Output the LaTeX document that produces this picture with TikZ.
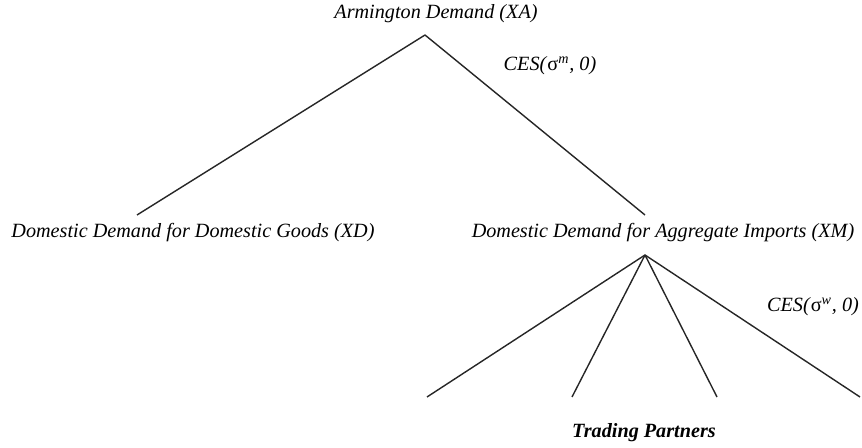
\documentclass[tikz,border=0pt]{standalone}
\usepackage{fontspec}
\setmainfont{Liberation Serif}
\usepackage{tikz}
\usetikzlibrary{positioning}

\begin{document}
\begin{tikzpicture}[
    x=0.02cm, y=-0.02cm,
    demand/.style={font=\fontsize{11.5}{14}\selectfont\itshape, inner sep=1pt},
    partner/.style={font=\fontsize{11.5}{14}\selectfont\bfseries\itshape, inner sep=1pt},
    ces/.style={font=\fontsize{11.5}{14}\selectfont\itshape, inner sep=1pt},
    branch/.style={line width=0.8pt, black!85}
]
\useasboundingbox (0,0) rectangle (862,448);

% top nest
\node[demand] (xa) at (436,14) {Armington Demand (XA)};
\node[demand] (xd) at (193,233) {Domestic Demand for Domestic Goods (XD)};
\node[demand] (xm) at (663,233) {Domestic Demand for Aggregate Imports (XM)};
\node[ces] (cesm) at (550,66) {CES(\textup{σ}\textsuperscript{m}, 0)};

\coordinate (xatop) at (425,35);
\coordinate (xdend) at (137,215);
\coordinate (xmend) at (645,215);

\draw[branch] (xatop) -- (xdend);
\draw[branch] (xatop) -- (xmend);

% import nest
\node[ces] (cesw) at (813,307) {CES(\textup{σ}\textsuperscript{w}, 0)};
\node[partner] (tp) at (644,433) {Trading Partners};

\coordinate (xmtop) at (645,255);
\coordinate (p1) at (427,397);
\coordinate (p2) at (572,397);
\coordinate (p3) at (717,397);
\coordinate (p4) at (860,397);

\foreach \p in {p1,p2,p3,p4}
    \draw[branch] (xmtop) -- (\p);

\end{tikzpicture}
\end{document}
